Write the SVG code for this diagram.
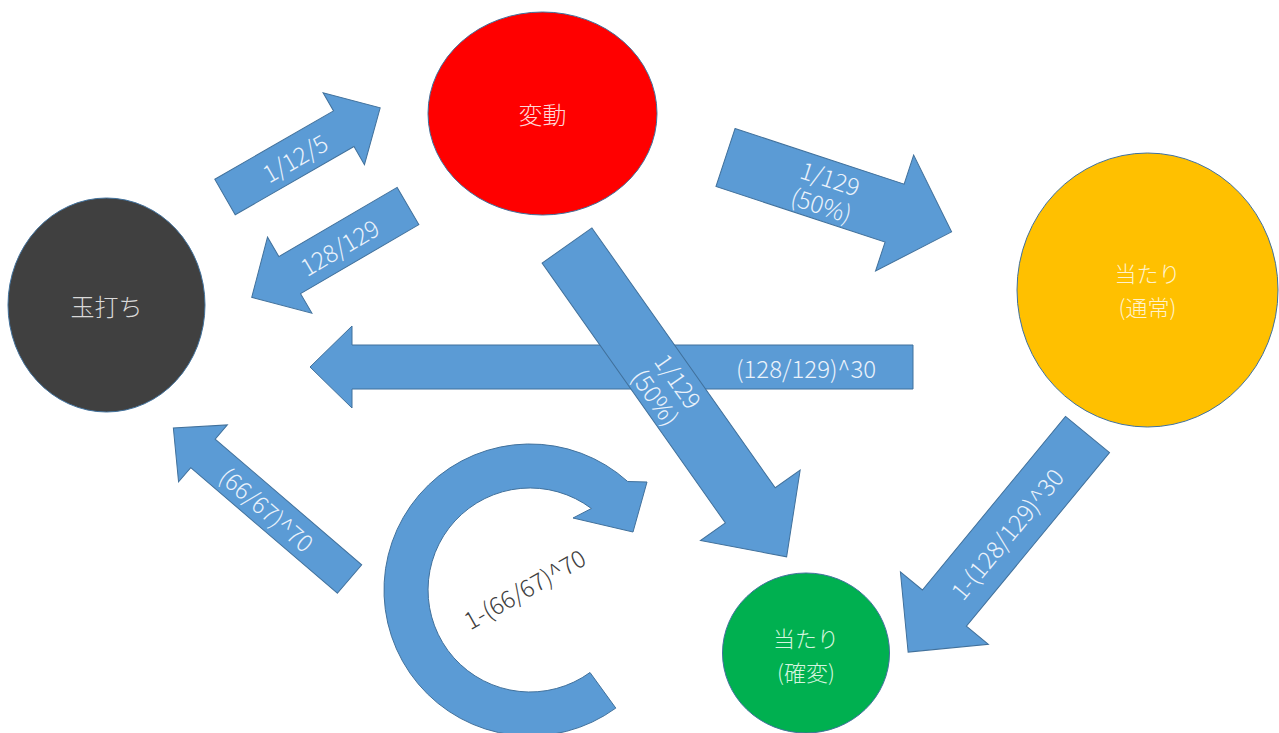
<svg xmlns="http://www.w3.org/2000/svg" width="1279" height="733" viewBox="0 0 1279 733">
<style>
.arr{fill:#5B9BD5;stroke:#41719C;stroke-width:1}
.node{stroke:#41719C;stroke-width:1}
.t{font-family:"Noto Sans CJK JP","Noto Sans",sans-serif;font-size:24px;font-weight:300;text-anchor:middle;dominant-baseline:central}
.s{font-size:22px}
.ta{fill:#EAF2FB}
.td{fill:#404040}
</style>
<rect width="1279" height="733" fill="#ffffff"/>
<g id="connectors">
  <g id="e-tama-hendou" transform="translate(225,197) rotate(-29.9)">
    <polygon class="arr" points="0,-20.5 137,-20.5 137,-41.5 179,0 137,41.5 137,20.5 0,20.5"/>
    <text class="t ta" x="80" y="0">1/12/5</text>
  </g>
  <g id="e-hendou-tama" transform="translate(408,206) rotate(149.7)">
    <polygon class="arr" points="0,-21.5 137,-21.5 137,-44 181,0 137,44 137,21.5 0,21.5"/>
    <text class="t ta" transform="translate(80,0) rotate(180)" x="0" y="0">128/129</text>
  </g>
  <g id="e-hendou-tsujo" transform="translate(725.5,157.5) rotate(18.2)">
    <polygon class="arr" points="0,-30.5 178,-30.5 178,-61 238,0 178,61 178,30.5 0,30.5"/>
    <text class="t ta" x="106" y="-14">1/129</text>
    <text class="t ta" x="106" y="14">(50%)</text>
  </g>
  <g id="e-tsujo-tama" transform="translate(913,367) rotate(180)">
    <polygon class="arr" points="0,-22 561,-22 561,-41 603,0 561,41 561,22 0,22"/>
  </g>
  <text class="t ta" x="806" y="367">(128/129)^30</text>
  <g id="e-hendou-kakuhen" transform="translate(567,245.5) rotate(54.8)">
    <polygon class="arr" points="0,-30.5 318,-30.5 318,-61 381,0 318,61 318,30.5 0,30.5"/>
    <text class="t ta" x="175" y="-14">1/129</text>
    <text class="t ta" x="175" y="14">(50%)</text>
  </g>
  <g id="e-kakuhen-tama" transform="translate(349.5,579) rotate(-139.4)">
    <polygon class="arr" points="0,-18.75 193,-18.75 193,-37.5 232,0 193,37.5 193,18.75 0,18.75"/>
    <text class="t ta" transform="translate(108,0) rotate(180)" x="0" y="0">(66/67)^70</text>
  </g>
  <g id="e-tsujo-kakuhen" transform="translate(1087.5,434.5) rotate(129.5)">
    <polygon class="arr" points="0,-28.5 225,-28.5 225,-57 282,0 225,57 225,28.5 0,28.5"/>
    <text class="t ta" transform="translate(128,0) rotate(180)" x="0" y="0">1-(128/129)^30</text>
  </g>
  <g id="e-kakuhen-loop">
    <path class="arr" d="M615.8,708.1 A146,146 0 1 1 627.7,481.5 L647,482 L633,532 L573,518 L591.4,508.5 A102,102 0 1 0 590,672.5 Z"/>
    <text class="t td" transform="translate(524,588) rotate(-29.6)" x="0" y="0">1-(66/67)^70</text>
  </g>
</g>
<g id="node-tama">
  <ellipse class="node" cx="106.5" cy="305" rx="98.5" ry="107" fill="#404040"/>
  <text class="t" x="106.5" y="305" fill="#D9D9D9">玉打ち</text>
</g>
<g id="node-hendou">
  <ellipse class="node" cx="542.5" cy="113.5" rx="114.5" ry="101.5" fill="#FF0000"/>
  <text class="t" x="542.5" y="113.5" fill="#FFD5D5">変動</text>
</g>
<g id="node-tsujo">
  <ellipse class="node" cx="1147.5" cy="290" rx="130.5" ry="137" fill="#FFC000"/>
  <text class="t s" x="1147.5" y="272" fill="#FFF2CC">当たり</text>
  <text class="t s" x="1147.5" y="306" fill="#FFF2CC">(通常)</text>
</g>
<g id="node-kakuhen">
  <ellipse class="node" cx="806" cy="653" rx="83.5" ry="80" fill="#00B050"/>
  <text class="t s" x="806" y="637" fill="#D5F5DF">当たり</text>
  <text class="t s" x="806" y="671" fill="#D5F5DF">(確変)</text>
</g>
</svg>
